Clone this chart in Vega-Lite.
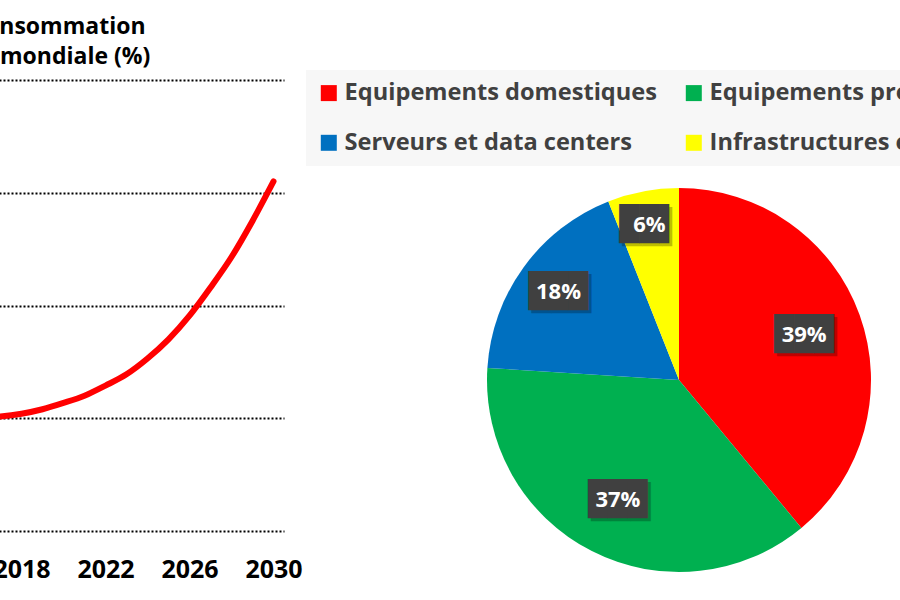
{
  "$schema": "https://vega.github.io/schema/vega-lite/v6.json",
  "background": "white",
  "padding": {"left": -176, "top": 15, "right": 0, "bottom": 0},
  "config": {"view": {"stroke": null}, "font": "Open Sans"},
  "resolve": {"scale": {"color": "independent"}, "legend": {"color": "independent"}},
  "datasets": {
    "conso": [
      {"annee": 2010, "part": 4.75}, {"annee": 2011, "part": 4.8}, {"annee": 2012, "part": 4.85},
      {"annee": 2013, "part": 4.9}, {"annee": 2014, "part": 4.95}, {"annee": 2015, "part": 5.0},
      {"annee": 2016, "part": 5.03}, {"annee": 2017, "part": 5.08}, {"annee": 2018, "part": 5.2},
      {"annee": 2019, "part": 5.4}, {"annee": 2020, "part": 5.68}, {"annee": 2021, "part": 6.0},
      {"annee": 2022, "part": 6.45}, {"annee": 2023, "part": 6.95}, {"annee": 2024, "part": 7.65},
      {"annee": 2025, "part": 8.5}, {"annee": 2026, "part": 9.55}, {"annee": 2027, "part": 10.8},
      {"annee": 2028, "part": 12.15}, {"annee": 2029, "part": 13.75}, {"annee": 2030, "part": 15.5}
    ],
    "repartition": [
      {"categorie": "Equipements domestiques", "part": 0.39},
      {"categorie": "Equipements professionnels", "part": 0.37},
      {"categorie": "Serveurs et data centers", "part": 0.18},
      {"categorie": "Infrastructures et réseaux", "part": 0.06}
    ]
  },
  "spacing": 3,
  "hconcat": [
    {
      "width": 441,
      "height": 451,
      "data": {"name": "conso"},
      "mark": {"type": "line", "color": "#ff0000", "strokeWidth": 6, "interpolate": "monotone", "strokeCap": "round"},
      "encoding": {
        "x": {
          "field": "annee", "type": "quantitative",
          "scale": {"domain": [2009.5, 2030.5], "nice": false, "zero": false},
          "axis": {
            "values": [2010, 2014, 2018, 2022, 2026, 2030], "format": "d", "title": null,
            "grid": false, "domain": false, "ticks": false, "labelFlush": false, "labelOverlap": false,
            "labelFontSize": 25, "labelFontWeight": "bold", "labelColor": "#000000", "labelPadding": 26, "labelFont": "Open Sans"
          }
        },
        "y": {
          "field": "part", "type": "quantitative",
          "scale": {"domain": [0, 20], "nice": false},
          "axis": {
            "values": [0, 5, 10, 15, 20], "grid": true, "gridDash": [2, 2], "gridWidth": 2, "gridColor": "#000000", "gridOpacity": 1,
            "domain": false, "ticks": false, "labels": false,
            "title": ["Part de la consommation", "d'électricité mondiale (%)"],
            "titleAngle": 0, "titleAlign": "left", "titleBaseline": "alphabetic",
            "titleX": 14, "titleY": -47, "titleLineHeight": 30,
            "titleFontSize": 23, "titleFontWeight": "bold", "titleColor": "#000000", "titleFont": "Open Sans"
          }
        }
      }
    },
    {
      "width": 730,
      "height": 600,
      "data": {"name": "repartition"},
      "encoding": {
        "theta": {"field": "part", "type": "quantitative", "stack": true},
        "order": {"field": "part", "sort": "descending"}
      },
      "layer": [
        {
          "mark": {"type": "arc", "outerRadius": 192},
          "encoding": {
            "color": {
              "field": "categorie", "type": "nominal",
              "scale": {
                "domain": ["Equipements domestiques", "Equipements professionnels", "Serveurs et data centers", "Infrastructures et réseaux"],
                "range": ["#ff0000", "#00b050", "#0070c0", "#ffff00"]
              },
              "legend": {
                "orient": "none", "legendX": -8, "legendY": -10, "columns": 2, "direction": "horizontal", "title": null,
                "symbolType": "square", "symbolSize": 256, "symbolStrokeWidth": 0, "symbolOpacity": 1,
                "labelFontSize": 23.6, "labelFontWeight": "bold", "labelColor": "#404040", "labelFont": "Open Sans",
                "labelLimit": 0, "labelOffset": 4, "fillColor": "#f7f7f7", "padding": 11,
                "rowPadding": 25, "columnPadding": 25
              }
            }
          }
        },
        {
          "mark": {"type": "text", "font": "DejaVu Sans Mono", "fontSize": 33, "color": "#000000", "opacity": 0.25, "dx": 3, "dy": 3},
          "encoding": {
            "detail": {"field": "categorie"},
            "radius": {"field": "part", "type": "quantitative", "scale": {"type": "linear", "zero": false, "nice": false, "domain": [0.06, 0.39], "range": [158, 133]}},
            "text": {"condition": {"test": "datum.part < 0.1", "value": "██▌"}, "value": "███"}
          }
        },
        {
          "mark": {"type": "text", "font": "DejaVu Sans Mono", "fontSize": 33, "color": "#404040"},
          "encoding": {
            "detail": {"field": "categorie"},
            "radius": {"field": "part", "type": "quantitative", "scale": {"type": "linear", "zero": false, "nice": false, "domain": [0.06, 0.39], "range": [158, 133]}},
            "text": {"condition": {"test": "datum.part < 0.1", "value": "██▌"}, "value": "███"}
          }
        },
        {
          "mark": {"type": "text", "font": "Open Sans", "fontSize": 22, "fontWeight": "bold", "color": "#ffffff"},
          "encoding": {
            "detail": {"field": "categorie"},
            "radius": {"field": "part", "type": "quantitative", "scale": {"type": "linear", "zero": false, "nice": false, "domain": [0.06, 0.39], "range": [158, 133]}},
            "text": {"field": "part", "type": "quantitative", "format": ".0%"}
          }
        }
      ]
    }
  ]
}
